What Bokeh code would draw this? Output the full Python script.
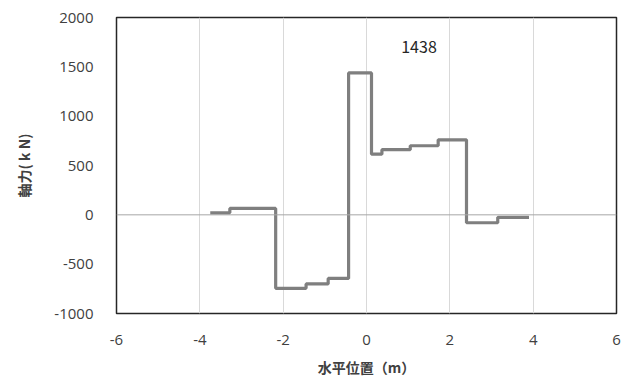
from bokeh.plotting import figure
from bokeh.models import Range1d, FixedTicker, Span, ColumnDataSource
from bokeh.core.properties import value
from bokeh.embed import file_html
from bokeh.resources import INLINE

# Data
x_edges = [-3.75, -3.28, -2.18, -1.45, -0.92, -0.43, 0.12, 0.37, 1.05, 1.72, 2.40, 3.15, 3.90]
axial_force = [20, 65, -745, -700, -645, 1438, 615, 660, 700, 760, -80, -25]
x_ticks = [-6, -4, -2, 0, 2, 4, 6]
y_ticks = [-1000, -500, 0, 500, 1000, 1500, 2000]
peak_label_x = [1.26]
peak_label_y = [1700]
peak_label_text = [str(max(axial_force))]

p = figure(width=626, height=380, output_backend="svg", toolbar_location=None,
           x_range=Range1d(-6, 6), y_range=Range1d(-1000, 2000),
           min_border_left=116, min_border_right=10, min_border_top=17, min_border_bottom=67)

p.background_fill_color = "white"
p.border_fill_color = "white"
p.outline_line_color = "#262626"
p.outline_line_width = 1.5

# grids
p.xgrid.ticker = FixedTicker(ticks=x_ticks)
p.xgrid.grid_line_color = "#d9d9d9"
p.xgrid.grid_line_width = 1
p.ygrid.grid_line_color = None

zero = Span(location=0, dimension="width", line_color="#a6a6a6", line_width=1)
p.add_layout(zero)

# step line
ys = axial_force + [axial_force[-1]]
p.step(x=x_edges, y=ys, mode="after", line_color="#7f7f7f", line_width=3.2)

# peak label
src = ColumnDataSource(dict(x=peak_label_x, y=peak_label_y, t=peak_label_text))
p.text(x="x", y="y", text="t", source=src, text_font=value("Noto Sans CJK JP"),
       text_font_size="16px", text_color="#262626", text_align="center", text_baseline="middle")

# axes
for ax in (p.xaxis[0], p.yaxis[0]):
    ax.axis_line_color = None
    ax.major_tick_line_color = None
    ax.minor_tick_line_color = None
    ax.major_label_text_font = "Open Sans"
    ax.major_label_text_font_size = "15px"
    ax.major_label_text_color = "#404040"
    ax.axis_label_text_font = "Noto Sans CJK JP"
    ax.axis_label_text_font_style = "bold"
    ax.axis_label_text_font_size = "14px"
    ax.axis_label_text_color = "#404040"

p.xaxis.ticker = FixedTicker(ticks=x_ticks)
p.yaxis.ticker = FixedTicker(ticks=y_ticks)
p.xaxis.major_label_overrides = {t: str(t) for t in x_ticks}
p.yaxis.major_label_overrides = {t: str(t) for t in y_ticks}
p.xaxis.major_label_standoff = 15
p.yaxis.major_label_standoff = 17
p.xaxis.axis_label = "水平位置（m）"
p.yaxis.axis_label = "軸力( k N)"
p.xaxis.axis_label_standoff = 9
p.yaxis.axis_label_standoff = 17

open("out.html", "w").write(file_html(p, INLINE))
